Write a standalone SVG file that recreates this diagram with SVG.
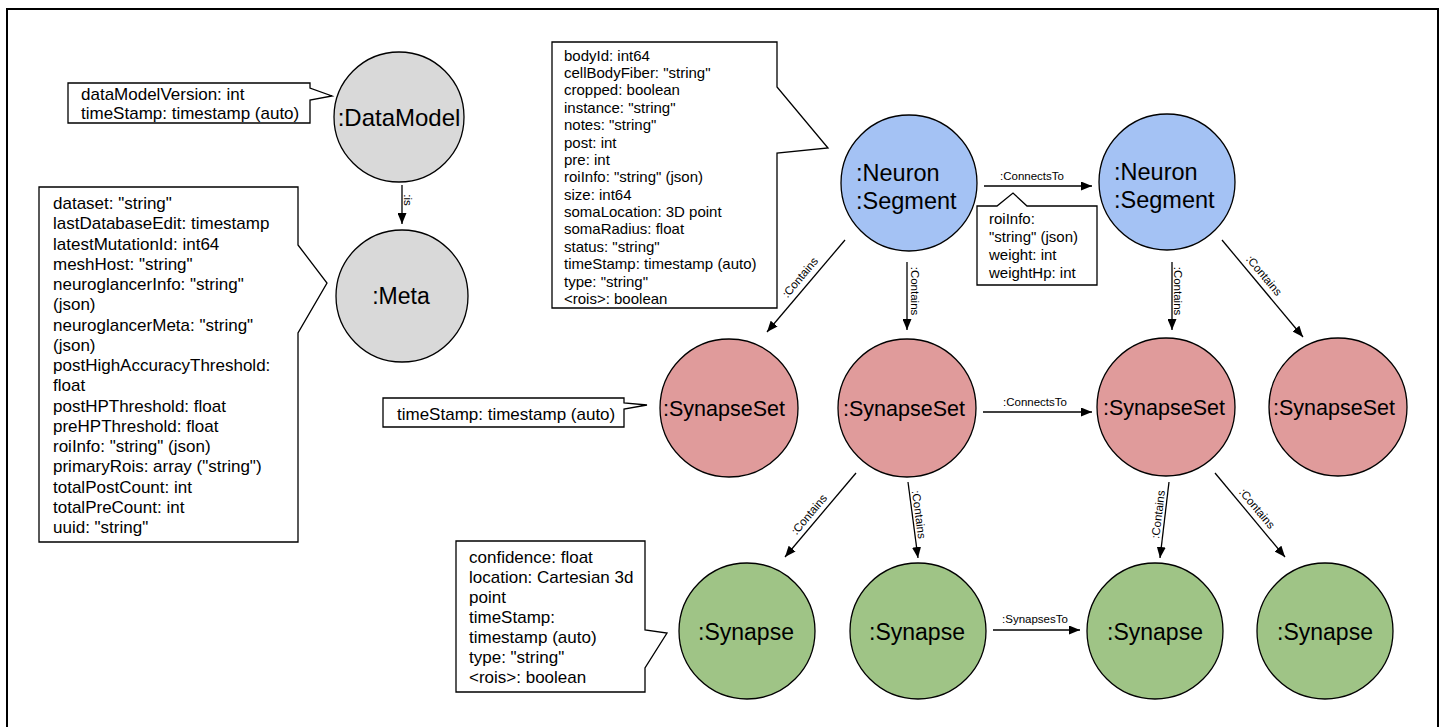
<svg xmlns="http://www.w3.org/2000/svg" width="1445" height="727" viewBox="0 0 1445 727">
<defs>
<marker id="ah" markerUnits="userSpaceOnUse" markerWidth="11" markerHeight="9" refX="11" refY="4.5" orient="auto">
<path d="M0,0 L11,4.5 L0,9 Z" fill="#000"/>
</marker>
<style>
text{font-family:"Liberation Sans",Arial,sans-serif;fill:#000}
.frame{fill:none;stroke:#000;stroke-width:2}
.node{stroke:#000;stroke-width:1.3}
.gray{fill:#d9d9d9}
.blue{fill:#a4c2f4}
.red{fill:#e09b9b}
.green{fill:#9fc486}
.call{fill:#fff;stroke:#000;stroke-width:1.3}
.edge{stroke:#000;stroke-width:1.3;fill:none;marker-end:url(#ah)}
.el{font-size:11.5px}
.ct{font-size:17px}
.cs{font-size:15px}
.nl{text-anchor:middle}
</style>
</defs>
<rect width="1445" height="727" fill="#fff"/>
<path class="frame" d="M7,728 V9 H1438 V728"/>

<g id="callouts">
<g id="datamodel-props">
<path class="call" d="M68,83 H310 V88 L332,96 L310,100 V123 H68 Z"/>
<text class="ct" x="81" y="100">dataModelVersion: int</text>
<text class="ct" x="81" y="118.5">timeStamp: timestamp (auto)</text>
</g>
<g id="meta-props">
<path class="call" d="M39,187 H298 V245 L327,283 L298,333 V542 H39 Z"/>
<text class="ct" x="53" y="209">dataset: "string"<tspan x="53" dy="20.25">lastDatabaseEdit: timestamp</tspan><tspan x="53" dy="20.25">latestMutationId: int64</tspan><tspan x="53" dy="20.25">meshHost: "string"</tspan><tspan x="53" dy="20.25">neuroglancerInfo: "string"</tspan><tspan x="53" dy="20.25">(json)</tspan><tspan x="53" dy="20.25">neuroglancerMeta: "string"</tspan><tspan x="53" dy="20.25">(json)</tspan><tspan x="53" dy="20.25">postHighAccuracyThreshold:</tspan><tspan x="53" dy="20.25">float</tspan><tspan x="53" dy="20.25">postHPThreshold: float</tspan><tspan x="53" dy="20.25">preHPThreshold: float</tspan><tspan x="53" dy="20.25">roiInfo: "string" (json)</tspan><tspan x="53" dy="20.25">primaryRois: array ("string")</tspan><tspan x="53" dy="20.25">totalPostCount: int</tspan><tspan x="53" dy="20.25">totalPreCount: int</tspan><tspan x="53" dy="20.25">uuid: "string"</tspan></text>
</g>
<g id="neuron-props">
<path class="call" d="M552,42 H777 V87 L828,148 L777,153 V308 H552 Z"/>
<text class="cs" x="564" y="60.5">bodyId: int64<tspan x="564" dy="17.4">cellBodyFiber: "string"</tspan><tspan x="564" dy="17.4">cropped: boolean</tspan><tspan x="564" dy="17.4">instance: "string"</tspan><tspan x="564" dy="17.4">notes: "string"</tspan><tspan x="564" dy="17.4">post: int</tspan><tspan x="564" dy="17.4">pre: int</tspan><tspan x="564" dy="17.4">roiInfo: "string" (json)</tspan><tspan x="564" dy="17.4">size: int64</tspan><tspan x="564" dy="17.4">somaLocation: 3D point</tspan><tspan x="564" dy="17.4">somaRadius: float</tspan><tspan x="564" dy="17.4">status: "string"</tspan><tspan x="564" dy="17.4">timeStamp: timestamp (auto)</tspan><tspan x="564" dy="17.4">type: "string"</tspan><tspan x="564" dy="17.4">&lt;rois&gt;: boolean</tspan></text>
</g>
<g id="connects-props">
<path class="call" d="M977,206 H997 L1013,193 L1027,206 H1097 V285 H977 Z"/>
<text class="cs" x="989" y="224">roiInfo:<tspan x="989" dy="18">"string" (json)</tspan><tspan x="989" dy="18">weight: int</tspan><tspan x="989" dy="18">weightHp: int</tspan></text>
</g>
<g id="synapseset-props">
<path class="call" d="M383,398 H624 V403 L647,405 L624,409 V427 H383 Z"/>
<text class="ct" x="397" y="419.5">timeStamp: timestamp (auto)</text>
</g>
<g id="synapse-props">
<path class="call" d="M456,541 H645 V630 L667,633 L645,668 V692 H456 Z"/>
<text class="ct" x="469" y="563">confidence: float<tspan x="469" dy="20">location: Cartesian 3d</tspan><tspan x="469" dy="20">point</tspan><tspan x="469" dy="20">timeStamp:</tspan><tspan x="469" dy="20">timestamp (auto)</tspan><tspan x="469" dy="20">type: "string"</tspan><tspan x="469" dy="20">&lt;rois&gt;: boolean</tspan></text>
</g>
</g>

<g id="connectors">
<line class="edge" x1="402" y1="185" x2="402" y2="224"/>
<text class="el nl" transform="translate(404,200) rotate(90)">:is</text>

<line class="edge" x1="984" y1="186" x2="1092" y2="186"/>
<text class="el nl" x="1032" y="180">:ConnectsTo</text>

<line class="edge" x1="845" y1="240" x2="767" y2="332"/>
<text class="el nl" transform="translate(803,280) rotate(-50)">:Contains</text>

<line class="edge" x1="907" y1="262" x2="907" y2="330"/>
<text class="el nl" transform="translate(911,291) rotate(90)">:Contains</text>

<line class="edge" x1="1172" y1="262" x2="1172" y2="330"/>
<text class="el nl" transform="translate(1174,291) rotate(90)">:Contains</text>

<line class="edge" x1="1222" y1="240" x2="1303" y2="337"/>
<text class="el nl" transform="translate(1261,278) rotate(50)">:Contains</text>

<line class="edge" x1="983" y1="412" x2="1092" y2="412"/>
<text class="el nl" x="1035" y="406">:ConnectsTo</text>

<line class="edge" x1="856" y1="473" x2="785" y2="557"/>
<text class="el nl" transform="translate(812,517) rotate(-50)">:Contains</text>

<line class="edge" x1="908" y1="482" x2="918" y2="558"/>
<text class="el nl" transform="translate(915,515) rotate(82.5)">:Contains</text>

<line class="edge" x1="1169" y1="482" x2="1160" y2="558"/>
<text class="el nl" transform="translate(1162,515) rotate(-83)">:Contains</text>

<line class="edge" x1="1215" y1="473" x2="1285" y2="557"/>
<text class="el nl" transform="translate(1254,511) rotate(50)">:Contains</text>

<line class="edge" x1="993" y1="630" x2="1080" y2="630"/>
<text class="el nl" x="1035" y="623">:SynapsesTo</text>
</g>

<g id="datamodel">
<circle class="node gray" cx="399" cy="117" r="65"/>
<text class="nl" x="399" y="125.5" font-size="24">:DataModel</text>
</g>
<g id="meta">
<circle class="node gray" cx="402" cy="296" r="66"/>
<text class="nl" x="401" y="304" font-size="23">:Meta</text>
</g>
<g id="neuron1">
<circle class="node blue" cx="909" cy="183" r="68"/>
<text x="856" y="181" font-size="23.5">:Neuron<tspan x="856" dy="28">:Segment</tspan></text>
</g>
<g id="neuron2">
<circle class="node blue" cx="1167" cy="182" r="68"/>
<text x="1114" y="180" font-size="23.5">:Neuron<tspan x="1114" dy="28">:Segment</tspan></text>
</g>
<g id="synapseset1">
<circle class="node red" cx="729" cy="408" r="69"/>
<text class="nl" x="724" y="415.5" font-size="21.5">:SynapseSet</text>
</g>
<g id="synapseset2">
<circle class="node red" cx="907" cy="408" r="69"/>
<text class="nl" x="904" y="415.5" font-size="21.5">:SynapseSet</text>
</g>
<g id="synapseset3">
<circle class="node red" cx="1166" cy="407" r="69"/>
<text class="nl" x="1164" y="415" font-size="21.5">:SynapseSet</text>
</g>
<g id="synapseset4">
<circle class="node red" cx="1338" cy="407" r="69"/>
<text class="nl" x="1334" y="415" font-size="21.5">:SynapseSet</text>
</g>
<g id="synapse1">
<circle class="node green" cx="747" cy="631" r="68"/>
<text class="nl" x="746" y="639.5" font-size="23">:Synapse</text>
</g>
<g id="synapse2">
<circle class="node green" cx="918" cy="631" r="68"/>
<text class="nl" x="917" y="639.5" font-size="23">:Synapse</text>
</g>
<g id="synapse3">
<circle class="node green" cx="1155" cy="631" r="68"/>
<text class="nl" x="1155" y="639.5" font-size="23">:Synapse</text>
</g>
<g id="synapse4">
<circle class="node green" cx="1325" cy="631" r="68"/>
<text class="nl" x="1325" y="639.5" font-size="23">:Synapse</text>
</g>
</svg>
